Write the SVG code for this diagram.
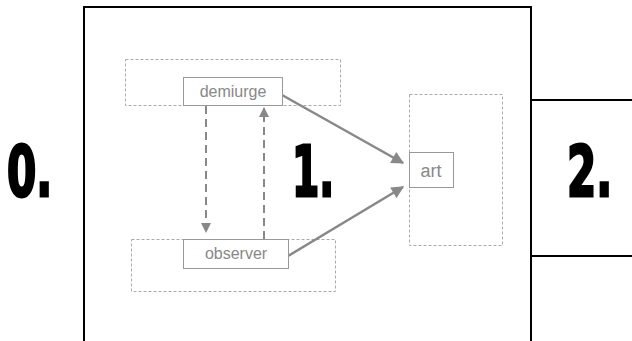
<svg xmlns="http://www.w3.org/2000/svg" width="632" height="341" viewBox="0 0 632 341">
<defs>
<style>
.frame{fill:none;stroke:#000;stroke-width:2}
.grp{fill:none;stroke:#aaa;stroke-width:1;stroke-dasharray:3 2}
.node rect{fill:#fff;stroke:#999;stroke-width:1}
.lbl{font-family:"Liberation Sans",Arial,sans-serif;fill:#888;text-anchor:middle}
.big{font-family:"DejaVu Sans",sans-serif;font-weight:bold;font-size:69px;fill:#000;stroke:#000;stroke-width:3}
.solid{stroke:#888;stroke-width:2.5;fill:none}
.dash{stroke:#888;stroke-width:2;fill:none;stroke-dasharray:8 5}
</style>
<marker id="ah" viewBox="0 0 10 10" refX="9" refY="5" markerWidth="5.5" markerHeight="5" orient="auto" markerUnits="strokeWidth">
<path d="M0,0 L10,5 L0,10 z" fill="#888"/>
</marker>
<marker id="ahs" viewBox="0 0 10 10" refX="9" refY="5" markerWidth="5" markerHeight="5" orient="auto" markerUnits="strokeWidth">
<path d="M0,0 L10,5 L0,10 z" fill="#888"/>
</marker>
</defs>
<rect width="632" height="341" fill="#fff"/>
<g id="frames">
<rect class="frame" x="84" y="7" width="447" height="345"/>
<path class="frame" d="M531,100 H640 M531,256 H640"/>
</g>
<g id="numbers">
<text class="big" transform="translate(7,196) scale(0.61,1)">0.</text>
<text class="big" transform="translate(292,196) scale(0.57,1)">1.</text>
<text class="big" transform="translate(567,196) scale(0.61,1)">2.</text>
</g>
<g id="groups">
<rect class="grp" x="125.5" y="59.5" width="215" height="46"/>
<rect class="grp" x="131.5" y="239.5" width="204" height="52"/>
<rect class="grp" x="409.5" y="94.5" width="93" height="151"/>
</g>
<g id="connectors">
<line class="dash" x1="206" y1="106" x2="206" y2="232" marker-end="url(#ahs)"/>
<line class="dash" x1="264" y1="239" x2="264" y2="108" marker-end="url(#ahs)"/>
<line class="solid" x1="282" y1="95" x2="403" y2="163" marker-end="url(#ah)"/>
<line class="solid" x1="288" y1="256" x2="403" y2="187" marker-end="url(#ah)"/>
</g>
<g id="demiurge" class="node">
<rect x="183.5" y="77.5" width="99" height="28"/>
<text class="lbl" x="233" y="97" font-size="16">demiurge</text>
</g>
<g id="observer" class="node">
<rect x="183.5" y="239.5" width="105" height="29"/>
<text class="lbl" x="236" y="259" font-size="16">observer</text>
</g>
<g id="art" class="node">
<rect x="409.5" y="152.5" width="44" height="35"/>
<text class="lbl" x="431" y="177" font-size="18">art</text>
</g>
</svg>
